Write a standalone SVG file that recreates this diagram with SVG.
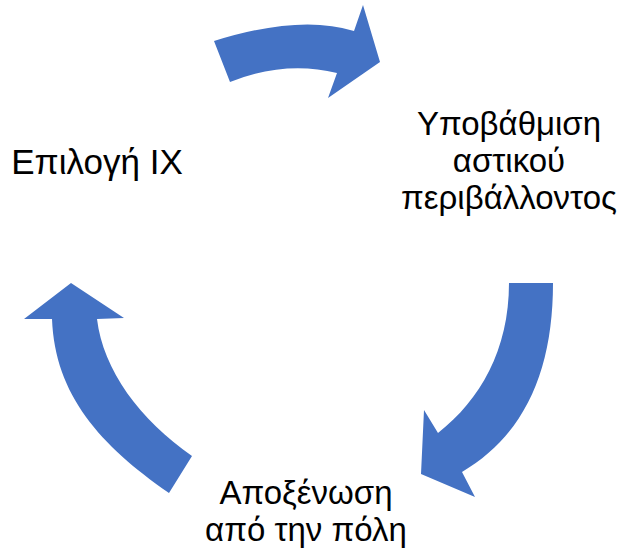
<svg xmlns="http://www.w3.org/2000/svg" width="623" height="556" viewBox="0 0 623 556">
<style>
.arr{fill:#4472C4;stroke:none}
.t{font-family:"Liberation Sans",Arial,sans-serif;font-size:33px;fill:#000;text-anchor:middle}
</style>
<rect width="623" height="556" fill="#fff"/>
<g id="connectors">
<path class="arr" d="M214,41 Q300,14 354,31 L363,5 L380,62 L328,98 L337,73 Q285,60 230,82 Z"/>
<path class="arr" d="M509,283 L553,283 C553,370 525,435 462,472 L475,497 L421,474 L424,410 L438,433 C480,400 509,350 509,283 Z"/>
<path class="arr" d="M192,456 L169,493 C100,445 55,395 52,319 L24,319 L71,283 L124,318 L97,319 C103,370 140,420 192,456 Z"/>
</g>
<g id="node-car">
<text class="t" x="97" y="174" style="font-size:35px">Επιλογή ΙΧ</text>
</g>
<g id="node-urban">
<text class="t" x="509" y="135">Υποβάθμιση</text>
<text class="t" x="509" y="172">αστικού</text>
<text class="t" x="509" y="209">περιβάλλοντος</text>
</g>
<g id="node-alienation">
<text class="t" x="306" y="504">Αποξένωση</text>
<text class="t" x="306" y="541">από την πόλη</text>
</g>
</svg>
